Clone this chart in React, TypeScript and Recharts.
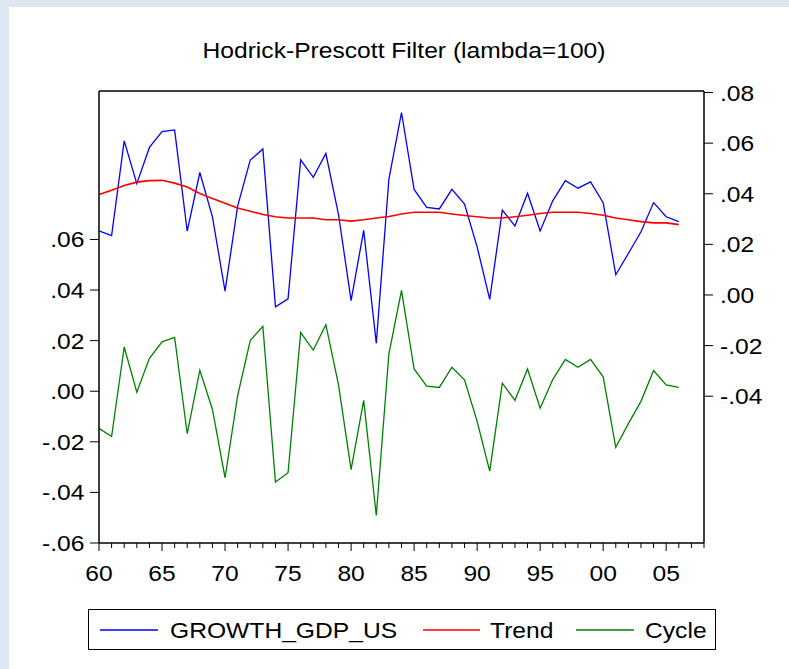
import React from "react"
import { LineChart, Line, XAxis, YAxis, ReferenceLine } from "recharts"

// years 1960..2006
const years = [
  1960, 1961, 1962, 1963, 1964, 1965, 1966, 1967, 1968, 1969,
  1970, 1971, 1972, 1973, 1974, 1975, 1976, 1977, 1978, 1979,
  1980, 1981, 1982, 1983, 1984, 1985, 1986, 1987, 1988, 1989,
  1990, 1991, 1992, 1993, 1994, 1995, 1996, 1997, 1998, 1999,
  2000, 2001, 2002, 2003, 2004, 2005, 2006,
]

const growthGdpUs = [
  0.0253, 0.0235, 0.0609, 0.044, 0.0583, 0.0646, 0.0652, 0.0252, 0.0484, 0.0309,
  0.0015, 0.0351, 0.0533, 0.0577, -0.0047, -0.0015, 0.0534, 0.0465, 0.0559, 0.0319,
  -0.0022, 0.0255, -0.0191, 0.0458, 0.0721, 0.0417, 0.0346, 0.034, 0.0417, 0.0359,
  0.019, -0.0017, 0.0335, 0.0273, 0.0402, 0.0253, 0.0372, 0.0452, 0.0422, 0.0447,
  0.0365, 0.008, 0.0164, 0.025, 0.0365, 0.0309, 0.029,
]

const trend = [
  0.0397, 0.0414, 0.0433, 0.0446, 0.0452, 0.0453, 0.0442, 0.0427, 0.0401, 0.0381,
  0.0362, 0.0344, 0.0331, 0.0318, 0.0309, 0.0304, 0.0304, 0.0304, 0.0297, 0.0297,
  0.0292, 0.0297, 0.0304, 0.031, 0.032, 0.0327, 0.0327, 0.0327, 0.032, 0.0314,
  0.0309, 0.0304, 0.0304, 0.0309, 0.0315, 0.0322, 0.0327, 0.0327, 0.0327, 0.0322,
  0.0315, 0.0304, 0.0297, 0.029, 0.0285, 0.0285, 0.0278,
]

const cycle = [
  -0.0147, -0.0179, 0.0175, -0.0004, 0.013, 0.0195, 0.0213, -0.0168, 0.0083, -0.0072,
  -0.0342, -0.0017, 0.02, 0.0257, -0.0359, -0.0322, 0.0232, 0.0163, 0.0263, 0.0026,
  -0.031, -0.0036, -0.0491, 0.0148, 0.0399, 0.0088, 0.002, 0.0015, 0.0095, 0.0045,
  -0.0119, -0.0316, 0.0032, -0.0036, 0.0088, -0.0067, 0.0046, 0.0126, 0.0095, 0.0126,
  0.0057, -0.0222, -0.0128, -0.004, 0.0082, 0.0025, 0.0015,
]

const xTicks = Array.from({ length: 49 }, (_, i) => 1960 + i)
const leftTicks = [-0.06, -0.04, -0.02, 0, 0.02, 0.04, 0.06]
const rightTicks = [-0.04, -0.02, 0, 0.02, 0.04, 0.06, 0.08]

const FONT = "'Liberation Sans', Arial, sans-serif"
const SX = 1.12 // text in the source is a bit wider than Arial

const data = years.map((year, i) => ({
  year,
  gdp: growthGdpUs[i],
  trend: trend[i],
  cycle: cycle[i],
}))

const fmt = (v: number) => {
  const s = Math.abs(v).toFixed(2).replace(/^0/, "")
  return v < -1e-9 ? "-" + s : s
}

const XTick = ({ x, y, payload }: any) => {
  const major = payload.value % 5 === 0
  return (
    <g>
      <line x1={x} x2={x} y1={y} y2={y + (major ? 8 : 5)} stroke="#000" strokeWidth={1} />
      {major && (
        <text
          transform={`translate(${x},${y + 38}) scale(${SX},1)`}
          textAnchor="middle"
          fontSize={22}
          fontFamily={FONT}
          fill="#000"
        >
          {String(payload.value % 100).padStart(2, "0")}
        </text>
      )}
    </g>
  )
}

const LeftTick = ({ x, y, payload }: any) => (
  <g>
    <line x1={x - 9} x2={x} y1={y} y2={y} stroke="#000" strokeWidth={1} />
    <text
      transform={`translate(${x - 14.5},${y + 8}) scale(${SX},1)`}
      textAnchor="end"
      fontSize={22}
      fontFamily={FONT}
      fill="#000"
    >
      {fmt(payload.value)}
    </text>
  </g>
)

const RightTick = ({ x, y, payload }: any) => (
  <g>
    <line x1={x} x2={x + 9} y1={y} y2={y} stroke="#000" strokeWidth={1} />
    <text
      transform={`translate(${x + 16},${y + 8}) scale(${SX},1)`}
      textAnchor="start"
      fontSize={22}
      fontFamily={FONT}
      fill="#000"
    >
      {fmt(payload.value)}
    </text>
  </g>
)

const legendItems = [
  { label: "GROWTH_GDP_US", color: "#0000ff", x1: 100, x2: 158, tx: 170 },
  { label: "Trend", color: "#ff0000", x1: 423, x2: 480, tx: 490 },
  { label: "Cycle", color: "#008000", x1: 576, x2: 634, tx: 645 },
]

export default function App() {
  return (
    <div style={{ position: "relative", width: 789, height: 669, background: "#dce7f2", overflow: "hidden" }}>
      <style>{`body{margin:0}`}</style>
      <div style={{ position: "absolute", left: 9, top: 7, right: 0, bottom: 0, background: "#fff" }} />

      <div style={{ position: "absolute", left: 0, top: 0 }}>
        <LineChart width={789} height={669} data={data} margin={{ top: 91, right: 0, bottom: 0, left: 0 }}>
          <XAxis
            dataKey="year"
            type="number"
            domain={[1960, 2008]}
            ticks={xTicks}
            interval={0}
            height={126}
            tickSize={0}
            tickMargin={0}
            tickLine={false}
            tick={(p: any) => <XTick {...p} />}
            axisLine={{ stroke: "#000", strokeWidth: 1.5 }}
          />
          <YAxis
            yAxisId="left"
            type="number"
            domain={[-0.06, 0.1187]}
            ticks={leftTicks}
            interval={0}
            width={99}
            tickSize={0}
            tickMargin={0}
            tickLine={false}
            tick={(p: any) => <LeftTick {...p} />}
            axisLine={{ stroke: "#000", strokeWidth: 1.5 }}
          />
          <YAxis
            yAxisId="right"
            orientation="right"
            type="number"
            domain={[-0.098, 0.0806]}
            ticks={rightTicks}
            interval={0}
            width={85}
            tickSize={0}
            tickMargin={0}
            tickLine={false}
            tick={(p: any) => <RightTick {...p} />}
            axisLine={{ stroke: "#000", strokeWidth: 1.5 }}
          />
          {/* top border of the frame */}
          <ReferenceLine yAxisId="left" y={0.1187} stroke="#000" strokeWidth={1.5} />

          <Line yAxisId="right" dataKey="gdp" stroke="#0000ff" strokeWidth={1.3} dot={false} isAnimationActive={false} />
          <Line yAxisId="right" dataKey="trend" stroke="#ff0000" strokeWidth={1.6} dot={false} isAnimationActive={false} />
          <Line yAxisId="left" dataKey="cycle" stroke="#008000" strokeWidth={1.3} dot={false} isAnimationActive={false} />
        </LineChart>
      </div>

      {/* title + legend */}
      <svg width={789} height={669} style={{ position: "absolute", left: 0, top: 0, pointerEvents: "none" }}>
        <text
          transform={`translate(404,58) scale(${SX},1)`}
          textAnchor="middle"
          fontSize={22}
          fontFamily={FONT}
          fill="#000"
        >
          Hodrick-Prescott Filter (lambda=100)
        </text>
        <rect x={88.5} y={609.5} width={627} height={40} fill="#fff" stroke="#000" strokeWidth={1} />
        {legendItems.map((it) => (
          <g key={it.label}>
            <line x1={it.x1} x2={it.x2} y1={630} y2={630} stroke={it.color} strokeWidth={1.3} />
            <text
              transform={`translate(${it.tx},638) scale(${SX},1)`}
              fontSize={22}
              fontFamily={FONT}
              fill="#000"
            >
              {it.label}
            </text>
          </g>
        ))}
      </svg>
    </div>
  )
}
